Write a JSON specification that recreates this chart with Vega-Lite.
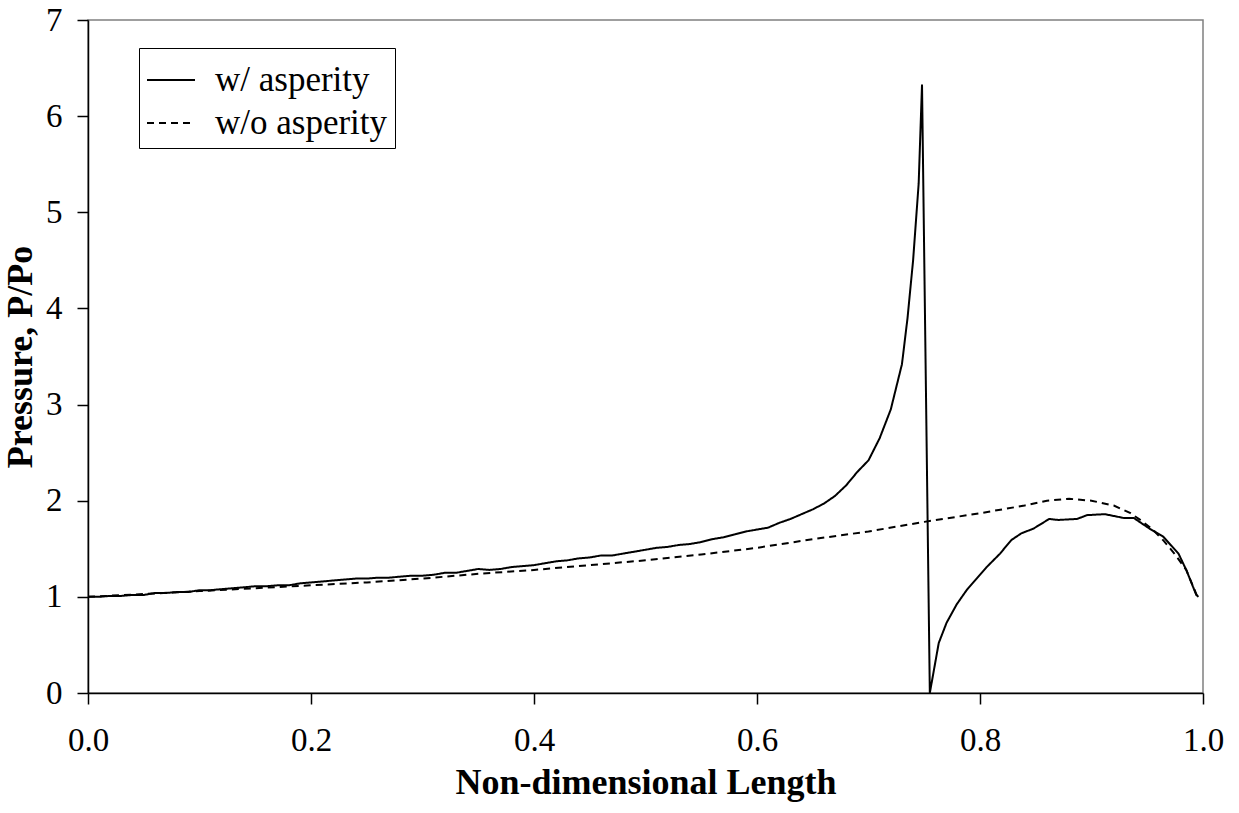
{
  "$schema": "https://vega.github.io/schema/vega-lite/v6.json",
  "width": 1115,
  "height": 673,
  "autosize": {"type": "none"},
  "padding": {"left": 88, "top": 20, "right": 36, "bottom": 120},
  "background": "white",
  "config": {
    "font": "Times New Roman, Liberation Serif, DejaVu Serif, serif",
    "view": {"stroke": "#808080", "strokeWidth": 1.5},
    "axis": {"grid": false, "domainColor": "black", "tickColor": "black", "labelColor": "black", "titleColor": "black", "domainWidth": 1.5, "tickWidth": 1.5, "labelFont": "Times New Roman, Liberation Serif, serif", "titleFont": "Times New Roman, Liberation Serif, serif"},
    "legend": {"labelFont": "Times New Roman, Liberation Serif, serif"}
  },
  "datasets": {
    "w": [
      [0.000,1.00],[0.010,1.00],[0.020,1.01],[0.030,1.01],[0.040,1.02],[0.050,1.02],[0.060,1.04],[0.070,1.04],[0.080,1.05],[0.090,1.05],
      [0.100,1.07],[0.110,1.07],[0.120,1.08],[0.130,1.09],[0.140,1.10],[0.150,1.11],[0.160,1.11],[0.170,1.12],[0.180,1.12],[0.190,1.14],
      [0.200,1.15],[0.210,1.16],[0.220,1.17],[0.230,1.18],[0.240,1.19],[0.250,1.19],[0.260,1.20],[0.270,1.20],[0.280,1.21],[0.290,1.22],
      [0.300,1.22],[0.310,1.23],[0.320,1.25],[0.330,1.25],[0.340,1.27],[0.350,1.29],[0.360,1.28],[0.370,1.29],[0.380,1.31],[0.390,1.32],
      [0.400,1.33],[0.410,1.35],[0.420,1.37],[0.430,1.38],[0.440,1.40],[0.450,1.41],[0.460,1.43],[0.470,1.43],[0.480,1.45],[0.490,1.47],
      [0.500,1.49],[0.510,1.51],[0.520,1.52],[0.530,1.54],[0.540,1.55],[0.550,1.57],[0.560,1.60],[0.570,1.62],[0.580,1.65],[0.590,1.68],
      [0.600,1.70],[0.610,1.72],[0.620,1.77],[0.630,1.81],[0.640,1.86],[0.650,1.91],[0.660,1.97],[0.670,2.05],[0.680,2.16],[0.690,2.30],
      [0.700,2.42],[0.710,2.65],[0.720,2.95],[0.730,3.42],[0.735,3.90],[0.740,4.50],[0.745,5.30],[0.748,6.33],[0.755,0.00],[0.763,0.52],
      [0.770,0.73],[0.779,0.92],[0.788,1.07],[0.797,1.19],[0.806,1.31],[0.818,1.45],[0.828,1.59],[0.837,1.66],[0.848,1.71],[0.862,1.81],
      [0.870,1.80],[0.887,1.81],[0.896,1.85],[0.912,1.86],[0.929,1.82],[0.938,1.82],[0.952,1.71],[0.964,1.63],[0.978,1.45],[0.985,1.28],
      [0.994,1.02],[0.996,1.00]
    ],
    "wo": [
      [0.00,1.00],[0.05,1.03],[0.10,1.06],[0.15,1.09],[0.20,1.12],[0.25,1.15],[0.30,1.19],[0.35,1.24],[0.40,1.28],[0.45,1.33],
      [0.50,1.38],[0.55,1.44],[0.60,1.51],[0.65,1.60],[0.70,1.68],[0.75,1.78],[0.80,1.87],[0.84,1.95],[0.86,2.00],[0.88,2.02],
      [0.90,2.00],[0.92,1.95],[0.935,1.87],[0.945,1.79],[0.955,1.70],[0.965,1.58],[0.975,1.44],[0.985,1.28],[0.995,1.00]
    ]
  },
  "layer": [
    {
      "data": {"name": "w"},
      "transform": [
        {"calculate": "datum[0]", "as": "x"},
        {"calculate": "datum[1]", "as": "p"},
        {"calculate": "'w/ asperity'", "as": "series"}
      ],
      "mark": {"type": "line", "color": "black", "strokeWidth": 2, "clip": true},
      "encoding": {
        "x": {"field": "x", "type": "quantitative"},
        "y": {"field": "p", "type": "quantitative"},
        "strokeDash": {"field": "series", "type": "nominal"}
      }
    },
    {
      "data": {"name": "wo"},
      "transform": [
        {"calculate": "datum[0]", "as": "x"},
        {"calculate": "datum[1]", "as": "p"},
        {"calculate": "'w/o asperity'", "as": "series"}
      ],
      "mark": {"type": "line", "color": "black", "strokeWidth": 2, "clip": true},
      "encoding": {
        "x": {"field": "x", "type": "quantitative"},
        "y": {"field": "p", "type": "quantitative"},
        "strokeDash": {"field": "series", "type": "nominal"}
      }
    }
  ],
  "resolve": {"scale": {"strokeDash": "shared"}},
  "encoding": {
    "x": {
      "field": "x", "type": "quantitative",
      "scale": {"domain": [0, 1], "nice": false, "zero": false},
      "axis": {"title": "Non-dimensional Length", "values": [0, 0.2, 0.4, 0.6, 0.8, 1.0], "format": ".1f",
        "tickSize": 11, "labelPadding": 20, "labelFontSize": 33, "titleFontSize": 36, "titleFontWeight": "bold", "titlePadding": 8, "labelFlush": false}
    },
    "y": {
      "field": "p", "type": "quantitative",
      "scale": {"domain": [0, 7], "nice": false},
      "axis": {"title": "Pressure, P/Po", "values": [0,1,2,3,4,5,6,7], "tickSize": 11, "labelPadding": 15,
        "labelFontSize": 33, "titleFontSize": 36, "titleFontWeight": "bold", "titlePadding": 6}
    },
    "strokeDash": {
      "field": "series", "type": "nominal",
      "scale": {"domain": ["w/ asperity", "w/o asperity"], "range": [[1, 0], [7, 5]]},
      "legend": {
        "title": null, "orient": "none", "legendX": 51, "legendY": 28,
        "symbolType": "stroke", "symbolSize": 2304, "symbolStrokeWidth": 2, "symbolStrokeColor": "black",
        "labelFontSize": 35, "labelOffset": 19, "labelColor": "black", "labelLimit": 0,
        "strokeColor": "black", "fillColor": "white", "padding": 7, "rowPadding": -6, "cornerRadius": 0
      }
    }
  }
}
